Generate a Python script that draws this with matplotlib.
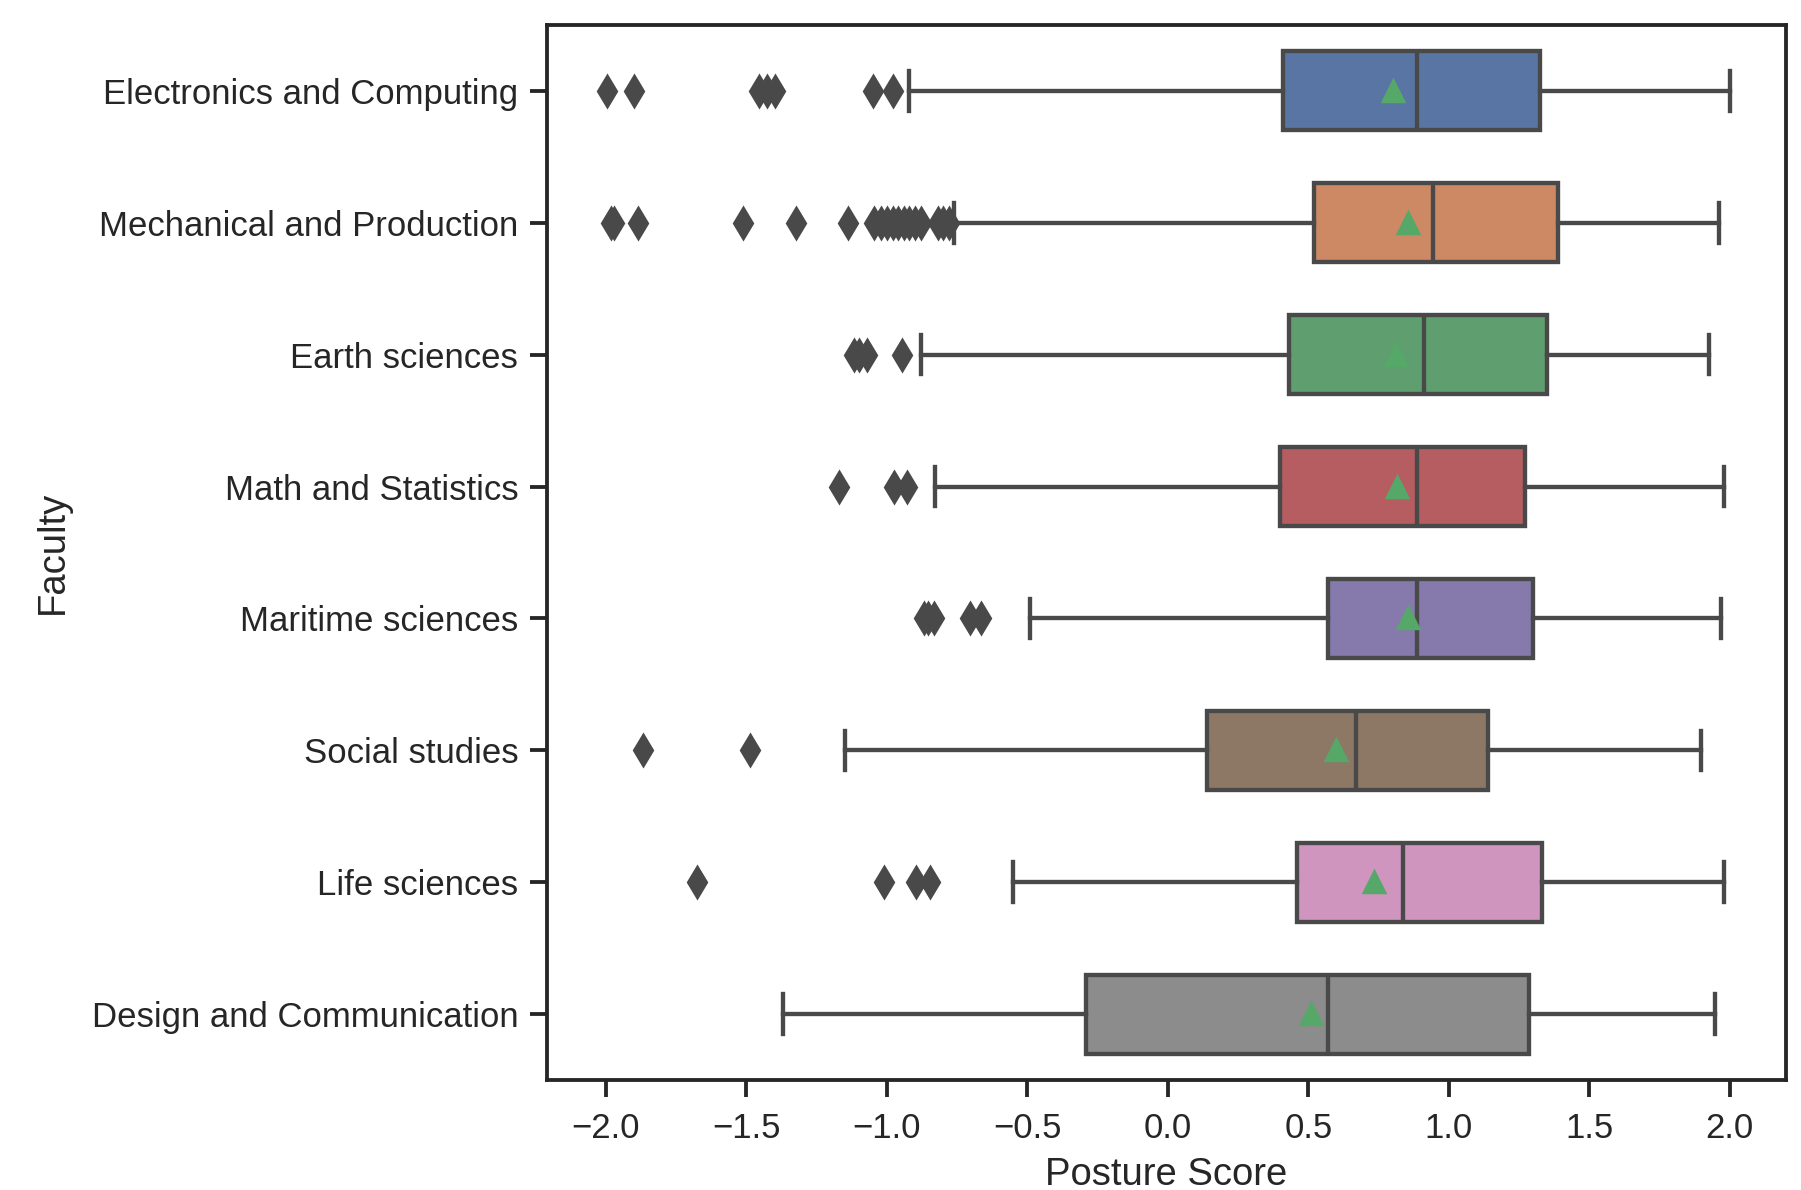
import colorsys
import matplotlib
matplotlib.use("Agg")
import matplotlib.pyplot as plt
import matplotlib.colors as mcolors

faculties = ["Electronics and Computing", "Mechanical and Production", "Earth sciences",
             "Math and Statistics", "Maritime sciences", "Social studies",
             "Life sciences", "Design and Communication"]
whislo = [-0.92, -0.76, -0.88, -0.83, -0.49, -1.15, -0.55, -1.37]
q1 = [0.41, 0.52, 0.43, 0.40, 0.57, 0.14, 0.46, -0.29]
median = [0.885, 0.945, 0.91, 0.885, 0.885, 0.67, 0.835, 0.57]
q3 = [1.325, 1.39, 1.35, 1.27, 1.30, 1.14, 1.33, 1.285]
whishi = [2.0, 1.963, 1.926, 1.98, 1.967, 1.898, 1.98, 1.947]
means = [0.80, 0.855, 0.81, 0.815, 0.855, 0.60, 0.733, 0.51]
fliers = [
    [-1.997, -1.90, -1.456, -1.426, -1.399, -1.049, -0.978],
    [-1.981, -1.970, -1.885, -1.511, -1.324, -1.139, -1.045, -1.02, -1.0, -0.98,
     -0.96, -0.94, -0.92, -0.90, -0.88, -0.82, -0.80, -0.78],
    [-1.118, -1.10, -1.070, -0.948],
    [-1.171, -0.975, -0.928],
    [-0.869, -0.855, -0.833, -0.703, -0.667],
    [-1.867, -1.488],
    [-1.675, -1.009, -0.895, -0.845],
    [],
]
xticks = [-2.0, -1.5, -1.0, -0.5, 0.0, 0.5, 1.0, 1.5, 2.0]
palette = ["#4C72B0", "#DD8452", "#55A868", "#C44E52", "#8172B3", "#937860", "#DA8BC3", "#8C8C8C"]


def desaturate(c, prop):
    r, g, b = mcolors.to_rgb(c)
    h, l, s = colorsys.rgb_to_hls(r, g, b)
    return colorsys.hls_to_rgb(h, l, s * prop)


colors = [desaturate(c, 0.75) for c in palette]
lum = min(colorsys.rgb_to_hls(*c)[1] for c in colors) * 0.6
gray = (lum, lum, lum)

plt.rcParams["font.family"] = ["Liberation Sans", "DejaVu Sans"]
plt.rcParams["text.color"] = "#262626"
plt.rcParams["axes.labelcolor"] = "#262626"
plt.rcParams["xtick.color"] = "#262626"
plt.rcParams["ytick.color"] = "#262626"

DPI = 250
fig = plt.figure(figsize=(1801 / DPI, 1190 / DPI), dpi=DPI)
ax = fig.add_axes([0.3037, 0.0924, 0.9917 - 0.3037, 0.979 - 0.0924])

stats = []
for i, f in enumerate(faculties):
    stats.append(dict(label=f, whislo=whislo[i], q1=q1[i], med=median[i], q3=q3[i],
                      whishi=whishi[i], mean=means[i], fliers=fliers[i]))

lw = 1.25
bp = ax.bxp(stats, positions=range(len(faculties)), orientation="horizontal",
            widths=0.6, capwidths=0.3, patch_artist=True, showmeans=True,
            boxprops=dict(edgecolor=gray, linewidth=lw),
            medianprops=dict(color=gray, linewidth=lw),
            whiskerprops=dict(color=gray, linewidth=lw),
            capprops=dict(color=gray, linewidth=lw),
            flierprops=dict(marker="d", markerfacecolor=gray, markeredgecolor=gray,
                            markersize=6.2, markeredgewidth=0.9, linestyle="none"),
            meanprops=dict(marker="^", markerfacecolor="#55A868", markeredgecolor="#55A868",
                           markersize=5.5))
for patch, c in zip(bp["boxes"], colors):
    patch.set_facecolor(c)

ax.set_ylim(len(faculties) - 0.5, -0.5)
ax.set_xlim(-2.21, 2.20)
ax.set_xticks(xticks)
ax.set_yticks(range(len(faculties)))
ax.set_yticklabels(faculties)
ax.tick_params(axis="both", labelsize=10, length=4.8, width=1.1, pad=3.5)
ax.tick_params(axis="x", pad=4.3)
for s in ax.spines.values():
    s.set_linewidth(1.1)
    s.set_color("#262626")
ax.set_xlabel("Posture Score", fontsize=11, labelpad=3.5)
ax.set_ylabel("Faculty", fontsize=11, labelpad=6)

fig.savefig("out.png", dpi=DPI)
